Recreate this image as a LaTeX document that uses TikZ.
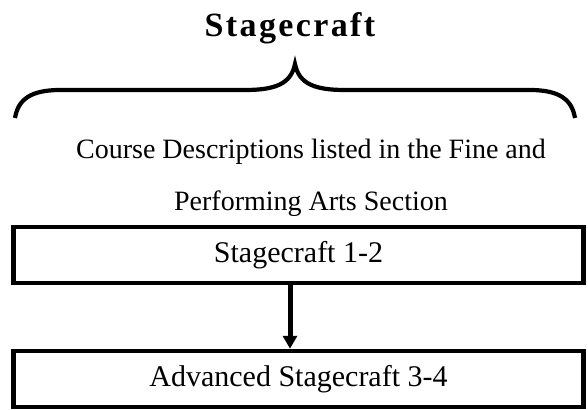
\documentclass[tikz,border=0pt]{standalone}
\usepackage{fontspec}
\setmainfont{Liberation Serif}
\newfontfamily\headfont[LetterSpace=7]{Liberation Serif}
\usetikzlibrary{positioning,arrows.meta}

\begin{document}
\begin{tikzpicture}[x=1pt, y=-1pt,
    course box/.style={rectangle, draw, line width=4.5pt, minimum width=570pt, minimum height=56pt, inner sep=0pt, font=\fontsize{30}{36}\selectfont},
    desc text/.style={inner sep=0pt, font=\fontsize{28}{34}\selectfont},
    title text/.style={inner sep=0pt, font=\headfont\bfseries\fontsize{34}{40}\selectfont}]
  \useasboundingbox (0,0) rectangle (588,409);

  \node[title text, anchor=base] (title) at (290,37) {Stagecraft};

  % the brace under the title
  \draw[line width=4.2pt] (15,118) .. controls (18,100) and (30,90) .. (60,90) -- (245,90)
    .. controls (275,90) and (291,84) .. (295,64)
    .. controls (299,84) and (315,90) .. (345,90) -- (530,90)
    .. controls (560,90) and (572,100) .. (575,118);

  \node[desc text, anchor=base] (desc1) at (311,158) {Course Descriptions listed in the Fine and};
  \node[desc text, below of=desc1, node distance=52pt] (desc2) {Performing Arts Section};

  \node[course box] (sc12) at (298.5,255) {Stagecraft 1-2};
  \node[course box, below of=sc12, node distance=124pt] (sc34) {Advanced Stagecraft 3-4};

  \draw[line width=5pt, -{Triangle[width=14pt, length=13pt]}] (sc12.south -| title) -- (sc34.north -| title);
\end{tikzpicture}
\end{document}
